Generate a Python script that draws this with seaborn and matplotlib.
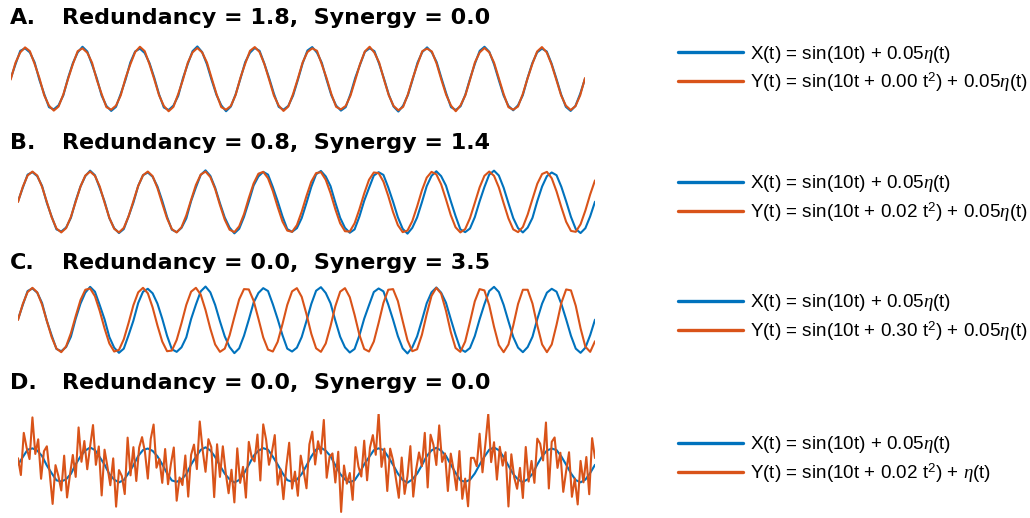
import numpy as np
import pandas as pd
import matplotlib
matplotlib.use("Agg")
import matplotlib.pyplot as plt
import seaborn as sns
from matplotlib.lines import Line2D

# Colours (MATLAB default)
BLUE = '#0072BD'
ORANGE = '#D95319'

# X(t) = sin(10t) + 0.05 eta(t), 12 samples per cycle, t in [0, 2pi]
x_vals = [
    0.02, 0.47, 0.9, 0.98, 0.85, 0.53, -0.03, -0.48, -0.9, -0.97, -0.84, -0.52,
    0.04, 0.51, 0.85, 1.03, 0.88, 0.46, 0.02, -0.53, -0.86, -1.02, -0.89, -0.47,
    -0.02, 0.53, 0.88, 0.97, 0.83, 0.51, 0.04, -0.49, -0.91, -0.99, -0.85, -0.54,
    0.03, 0.48, 0.89, 1.04, 0.86, 0.47, -0.04, -0.51, -0.84, -1.03, -0.88, -0.49,
    0.01, 0.54, 0.84, 0.99, 0.9, 0.49, 0.03, -0.47, -0.89, -0.98, -0.86, -0.53,
    -0.03, 0.5, 0.91, 1.02, 0.84, 0.52, -0.02, -0.52, -0.85, -1.01, -0.9, -0.48,
    0.04, 0.46, 0.87, 0.98, 0.89, 0.48, 0.01, -0.5, -0.88, -1.04, -0.85, -0.51,
    -0.01, 0.52, 0.86, 1.01, 0.85, 0.54, 0.03, -0.46, -0.9, -0.99, -0.87, -0.5,
    0.02, 0.49, 0.9, 1.03, 0.87, 0.47, -0.04, -0.53, -0.86, -1.0, -0.84, -0.52,
    0.03, 0.51, 0.85, 0.97, 0.88, 0.5, 0.02, -0.49, -0.89, -1.02, -0.86, -0.47,
    0.01,
]

# Panel A: Y = sin(10t + 0.00 t^2) + 0.05 eta
y_a = [
    -0.02, 0.52, 0.85, 1.01, 0.89, 0.48, 0.03, -0.52, -0.85, -1.01, -0.88, -0.49,
    0.01, 0.48, 0.89, 0.98, 0.84, 0.52, -0.03, -0.48, -0.9, -0.98, -0.85, -0.52,
    0.03, 0.47, 0.86, 1.03, 0.89, 0.47, -0.01, -0.52, -0.86, -1.03, -0.89, -0.48,
    -0.02, 0.52, 0.85, 0.99, 0.85, 0.53, 0.02, -0.48, -0.9, -0.98, -0.86, -0.51,
    0.04, 0.49, 0.9, 1.02, 0.86, 0.48, -0.02, -0.53, -0.85, -1.02, -0.88, -0.48,
    0.01, 0.53, 0.86, 0.98, 0.9, 0.47, 0.03, -0.48, -0.89, -0.97, -0.86, -0.53,
    -0.03, 0.48, 0.88, 1.03, 0.84, 0.52, -0.02, -0.52, -0.86, -1.0, -0.89, -0.49,
    0.02, 0.47, 0.89, 0.97, 0.88, 0.49, -0.03, -0.51, -0.85, -1.03, -0.84, -0.52,
    -0.01, 0.53, 0.85, 0.99, 0.85, 0.52, 0.02, -0.48, -0.9, -0.98, -0.88, -0.48,
    0.02, 0.48, 0.88, 1.02, 0.85, 0.47, -0.02, -0.52, -0.85, -0.99, -0.87, -0.52,
    0.03,
]

# Panel B: Y = sin(10t + 0.02 t^2) + 0.05 eta
y_b = [
    0.0, 0.5, 0.87, 1.0, 0.87, 0.5, -0.0, -0.5, -0.87, -1.0, -0.86, -0.49,
    0.01, 0.51, 0.87, 1.0, 0.86, 0.51, -0.02, -0.52, -0.88, -1.0, -0.85, -0.47,
    0.03, 0.53, 0.88, 1.0, 0.85, 0.46, -0.05, -0.54, -0.89, -1.0, -0.83, -0.44,
    0.07, 0.56, 0.9, 1.0, 0.82, 0.43, -0.1, -0.58, -0.91, -0.99, -0.8, -0.4,
    0.13, 0.61, 0.93, 0.99, 0.78, 0.36, -0.16, -0.64, -0.94, -0.98, -0.76, -0.32,
    0.2, 0.67, 0.95, 0.98, 0.73, 0.29, -0.24, -0.7, -0.96, -0.97, -0.7, -0.24,
    0.28, 0.73, 0.97, 0.95, 0.67, 0.2, -0.33, -0.76, -0.99, -0.94, -0.63, -0.15,
    0.38, 0.8, 0.99, 0.91, 0.58, 0.09, -0.43, -0.83, -1.0, -0.89, -0.53, -0.03,
    0.48, 0.86, 1.0, 0.86, 0.48, -0.04, -0.54, -0.9, -0.99, -0.82, -0.41, 0.1,
    0.6, 0.92, 0.99, 0.78, 0.35, -0.17, -0.65, -0.95, -0.98, -0.73, -0.28, 0.25,
    0.71,
]

# Panel C: Y = sin(10t + 0.30 t^2) + 0.05 eta
y_c = [
    0.0, 0.5, 0.87, 1.0, 0.86, 0.48, -0.03, -0.53, -0.89, -1.0, -0.82, -0.41,
    0.12, 0.62, 0.94, 0.98, 0.74, 0.28, -0.26, -0.73, -0.98, -0.93, -0.6, -0.09,
    0.46, 0.86, 1.0, 0.83, 0.39, -0.17, -0.67, -0.97, -0.95, -0.62, -0.1, 0.47,
    0.88, 1.0, 0.79, 0.31, -0.27, -0.76, -0.99, -0.89, -0.48, 0.09, 0.64, 0.96,
    0.95, 0.6, 0.04, -0.54, -0.92, -0.98, -0.68, -0.13, 0.47, 0.89, 0.99, 0.72,
    0.18, -0.43, -0.88, -0.99, -0.73, -0.19, 0.43, 0.88, 0.99, 0.71, 0.16, -0.46,
    -0.9, -0.98, -0.67, -0.09, 0.53, 0.94, 0.96, 0.59, -0.03, -0.63, -0.97, -0.91,
    -0.46, 0.18, 0.75, 1.0, 0.82, 0.29, -0.37, -0.87, -0.99, -0.67, -0.06, 0.58,
    0.96, 0.92, 0.46, -0.21, -0.78, -1.0, -0.76, -0.17, 0.5, 0.94, 0.94, 0.51,
    -0.17, -0.76, -1.0, -0.76, -0.15, 0.53, 0.95, 0.92, 0.44, -0.26, -0.83, -0.99,
    -0.66,
]

# Panel D: Y = sin(10t + 0.02 t^2) + eta, 20 samples per cycle
y_d = [
    0.4, -0.59, 1.89, 1.01, 0.35, 2.8, 0.65, 1.51, -0.81, 0.81, 1.1, -0.51, -2.29, -0.01, -0.65, -1.5, 0.55, -1.91, -0.59, 0.59,
    -0.7, 2.21, 0.19, 1.41, -0.25, 1.1, 2.35, 0.01, 1.09, -1.79, 0.9, -0.11, -1.19, 0.39, -2.45, -0.3, -0.65, -1.71, 1.61, -0.61,
    1.05, -0.94, 1.03, 1.64, 0.77, -0.8, 1.53, 2.38, -0.16, 0.36, -1.05, 0.94, -1.13, 0.06, 1.03, -2.1, -0.73, -1.18, 0.56, -1.86,
    0.6, 1.2, -0.24, 2.56, 0.88, -0.4, 1.52, 1.05, -1.89, 1.22, -0.7, 1.1, -0.46, -1.66, -0.28, -2.2, 0.98, -1.05, -0.11, -1.92,
    1.36, 0.45, 0.21, 1.79, -0.91, 2.39, 1.49, 0.01, 0.75, 1.76, -1.16, -0.25, -2.01, -0.09, 1.31, -1.39, -0.39, -1.81, 0.55, -0.36,
    -1.37, 1.22, 1.96, 0.03, 1.4, 0.67, 2.65, -0.75, 0.48, 0.68, -1.03, 0.78, -2.76, -0.03, -1.1, -0.47, -2.05, 1.05, -0.08, -0.68,
    1.43, -0.9, 1.02, 1.76, 0.6, 3.05, -0.11, 0.96, -1.53, 0.96, 0.27, -0.8, -1.93, 0.44, -1.7, -0.65, 1.11, -1.86, -0.27, 0.74,
    -0.07, 1.89, -1.32, 1.78, 1.19, 0.0, 2.33, 0.18, 0.68, -1.53, 0.67, -0.29, -1.48, 0.82, -1.99, -0.8, -2.43, 0.42, 0.42, -0.07,
    1.84, -0.43, 1.23, 3.0, 0.17, 1.34, -0.86, 1.07, -0.04, 0.75, -2.44, 0.63, -0.73, -1.4, -0.17, -1.94, 1.06, -0.97, 0.24, -1.05,
    1.55, 1.25, 0.27, 2.5, -1.38, 1.36, 1.62, -0.17, 0.72, -1.58, -0.35, 0.75, -1.87, -0.8, -2.32, 0.24, -1.02, 0.47, -1.72, 1.58,
    0.41,
]

panel_letters = ['A.', 'B.', 'C.', 'D.']
panel_titles = [
    'Redundancy = 1.8,  Synergy = 0.0',
    'Redundancy = 0.8,  Synergy = 1.4',
    'Redundancy = 0.0,  Synergy = 3.5',
    'Redundancy = 0.0,  Synergy = 0.0',
]
x_label = 'X(t) = sin(10t) + 0.05$\\eta$(t)'
y_labels = [
    'Y(t) = sin(10t + 0.00 t$^{\\mathrm{2}}$) + 0.05$\\eta$(t)',
    'Y(t) = sin(10t + 0.02 t$^{\\mathrm{2}}$) + 0.05$\\eta$(t)',
    'Y(t) = sin(10t + 0.30 t$^{\\mathrm{2}}$) + 0.05$\\eta$(t)',
    'Y(t) = sin(10t + 0.02 t$^{\\mathrm{2}}$) + $\\eta$(t)',
]
y_series = [y_a, y_b, y_c, y_d]

sns.set_style("white")
plt.rcParams['font.family'] = ['Liberation Sans', 'DejaVu Sans']
plt.rcParams['text.color'] = 'black'
plt.rcParams['mathtext.fontset'] = 'custom'
plt.rcParams['mathtext.rm'] = 'Liberation Sans'
plt.rcParams['mathtext.it'] = 'Liberation Serif:italic'

W, H = 1030, 518
fig = plt.figure(figsize=(W / 100, H / 100), dpi=100)

# pixel layout: (left, right, top, bottom) of each plot area, y limits
boxes = [(10.7, 585, 43, 115), (18, 595, 167, 237), (18, 595, 283, 357), (18, 595, 414, 516)]
ylims = [1.15, 1.15, 1.15, 3.0]
title_y = [18, 143, 263, 383]
legend_y = [69, 198.5, 317.5, 459.5]

for i in range(4):
    l, r, top, bot = boxes[i]
    ax = fig.add_axes([l / W, 1 - bot / H, (r - l) / W, (bot - top) / H])
    ax.set_axis_off()

    t_x = np.linspace(0, 2 * np.pi, len(x_vals))
    t_y = np.linspace(0, 2 * np.pi, len(y_series[i]))
    df = pd.concat([
        pd.DataFrame({'t': t_x, 'v': x_vals, 's': 'X'}),
        pd.DataFrame({'t': t_y, 'v': y_series[i], 's': 'Y'}),
    ])
    sns.lineplot(data=df, x='t', y='v', hue='s', palette={'X': BLUE, 'Y': ORANGE},
                 estimator=None, sort=False, linewidth=1.5, legend=False, ax=ax)
    ax.set_xlim(0, 2 * np.pi)
    ax.set_ylim(-ylims[i], ylims[i])

    fig.text(10 / W, 1 - title_y[i] / H, panel_letters[i], fontsize=16, fontweight='bold',
             family='DejaVu Sans', va='center', ha='left')
    fig.text(62 / W, 1 - title_y[i] / H, panel_titles[i], fontsize=16, fontweight='bold',
             family='DejaVu Sans', va='center', ha='left')

    handles = [Line2D([], [], color=BLUE, lw=2.4), Line2D([], [], color=ORANGE, lw=2.4)]
    ax.legend(handles, [x_label, y_labels[i]], loc='center left',
              bbox_to_anchor=(678 / W, 1 - legend_y[i] / H), bbox_transform=fig.transFigure,
              frameon=False, fontsize=13.6, handlelength=3.45, handletextpad=0.37,
              labelspacing=0.3, borderpad=0, borderaxespad=0)

fig.savefig('out.png', dpi=100)
